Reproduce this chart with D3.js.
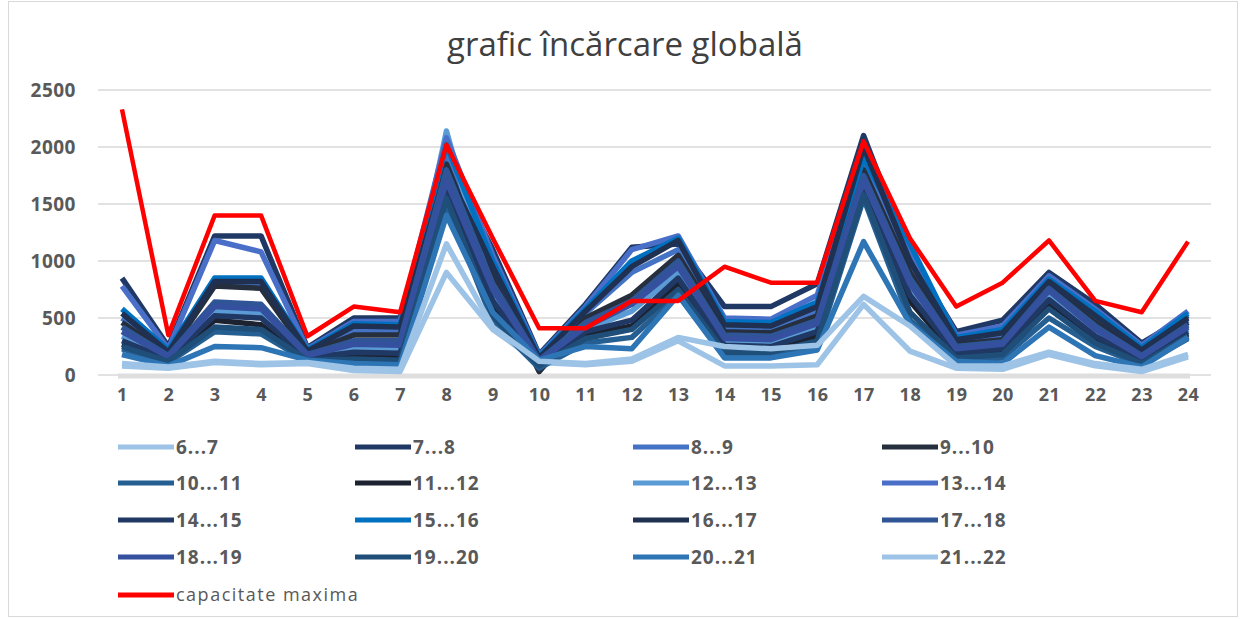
<!DOCTYPE html>
<html>
<head>
<meta charset="utf-8">
<script src="https://cdn.jsdelivr.net/npm/d3@7"></script>
<style>
  body { margin: 0; background: #fff; }
  svg { display: block; }
</style>
</head>
<body>
<script>
// categories on the x axis
const categories = d3.range(1, 25);
const yTicks = [0, 500, 1000, 1500, 2000, 2500];

// series values
const s67   = [80, 60, 110, 90, 100, 40, 30, 900, 400, 110, 90, 120, 300, 80, 80, 90, 620, 210, 60, 50, 180, 80, 30, 160];
const s78   = [850, 250, 1220, 1220, 240, 500, 500, 1900, 1100, 180, 620, 1120, 1150, 600, 600, 800, 2100, 1050, 380, 480, 900, 620, 280, 520];
const s89   = [500, 190, 800, 780, 200, 380, 380, 1950, 900, 140, 540, 900, 1100, 410, 400, 560, 1850, 950, 290, 340, 800, 490, 200, 480];
const s910  = [460, 180, 780, 760, 190, 350, 350, 1850, 850, 30, 500, 700, 1050, 380, 370, 520, 1800, 900, 270, 310, 780, 460, 180, 460];
const s1011 = [230, 110, 380, 360, 120, 110, 100, 1500, 470, 60, 280, 330, 700, 180, 170, 260, 1550, 480, 130, 150, 500, 250, 90, 320];
const s1112 = [270, 130, 480, 440, 140, 170, 160, 1720, 600, 90, 350, 430, 800, 230, 220, 340, 1600, 650, 170, 210, 620, 310, 120, 360];
const s1213 = [340, 150, 560, 540, 160, 240, 230, 2140, 700, 110, 400, 560, 900, 290, 280, 420, 1650, 750, 210, 250, 700, 370, 150, 400];
const s1314 = [780, 230, 1180, 1080, 230, 470, 470, 2080, 1050, 170, 600, 1100, 1220, 500, 490, 700, 1950, 1100, 350, 430, 870, 580, 260, 560];
const s1415 = [300, 140, 520, 500, 150, 200, 190, 1650, 650, 100, 380, 480, 850, 260, 250, 380, 1620, 700, 190, 230, 660, 340, 140, 380];
const s1516 = [580, 220, 850, 850, 220, 450, 440, 2020, 1000, 160, 580, 1000, 1200, 470, 460, 640, 1900, 1150, 330, 400, 840, 560, 240, 540];
const s1617 = [540, 200, 820, 820, 210, 430, 420, 1800, 950, 150, 560, 950, 1180, 440, 430, 600, 2000, 1000, 310, 370, 820, 520, 220, 500];
const s1718 = [420, 170, 640, 620, 180, 300, 300, 1800, 800, 130, 460, 650, 1000, 350, 340, 480, 1750, 850, 250, 290, 760, 430, 170, 440];
const s1819 = [380, 160, 600, 580, 170, 270, 260, 1700, 750, 120, 420, 620, 950, 320, 310, 450, 1700, 800, 230, 270, 740, 400, 160, 420];
const s1920 = [250, 120, 420, 400, 130, 140, 130, 1550, 520, 80, 320, 400, 750, 200, 200, 300, 1580, 550, 150, 180, 580, 280, 100, 340];
const s2021 = [180, 80, 250, 240, 130, 100, 90, 1400, 550, 130, 250, 230, 700, 150, 150, 220, 1170, 450, 120, 100, 420, 170, 70, 330];
const s2122 = [100, 70, 120, 100, 110, 60, 50, 1150, 420, 120, 100, 140, 330, 250, 230, 260, 690, 430, 80, 80, 200, 100, 50, 180];
const capacitate = [2330, 350, 1400, 1400, 340, 600, 550, 2020, 1200, 410, 410, 650, 650, 950, 810, 810, 2050, 1200, 600, 810, 1180, 650, 550, 1170];

const seriesNames = ["6...7", "7...8", "8...9", "9...10", "10...11", "11...12", "12...13", "13...14",
  "14...15", "15...16", "16...17", "17...18", "18...19", "19...20", "20...21", "21...22", "capacitate maxima"];
const seriesValues = [s67, s78, s89, s910, s1011, s1112, s1213, s1314,
  s1415, s1516, s1617, s1718, s1819, s1920, s2021, s2122, capacitate];
const seriesColors = ["#9dc3e6", "#1f3864", "#4472c4", "#262f3d", "#255e91", "#1c2230", "#5b9bd5", "#4a6fc8",
  "#203864", "#0070c0", "#1f3050", "#2f5597", "#34509f", "#1f4e79", "#2e75b6", "#9dc3e6", "#ff0000"];

const width = 1240, height = 619;
const textColor = "#595959";
const font = "'Open Sans', 'Liberation Sans', sans-serif";

const svg = d3.select("body").append("svg")
  .attr("width", width)
  .attr("height", height)
  .style("font-family", font);

// outer chart frame
svg.append("rect")
  .attr("x", 8.5).attr("y", 1.5)
  .attr("width", 1229).attr("height", 615)
  .attr("fill", "#fff")
  .attr("stroke", "#d9d9d9");

svg.append("text")
  .attr("x", 625).attr("y", 56)
  .attr("text-anchor", "middle")
  .attr("fill", "#404040")
  .style("font-size", "33px")
  .text("grafic încărcare globală");

const x = d3.scalePoint().domain(categories).range([122, 1188]);
const y = d3.scaleLinear().domain([0, 2500]).range([375, 90]);

// horizontal gridlines
svg.append("g")
  .selectAll("line")
  .data(yTicks)
  .join("line")
  .attr("x1", 98).attr("x2", 1211)
  .attr("y1", d => y(d)).attr("y2", d => y(d))
  .attr("stroke", "#d9d9d9")
  .attr("stroke-width", 1.5);

const yAxis = d3.axisLeft(y).tickValues(yTicks).tickFormat(d3.format("d")).tickSize(0).tickPadding(0);
svg.append("g")
  .attr("transform", "translate(76,0)")
  .call(yAxis)
  .call(g => g.select(".domain").remove())
  .call(g => g.selectAll("text")
    .attr("fill", textColor)
    .style("font-family", font)
    .style("font-size", "19px")
    .style("font-weight", "bold")
    .style("letter-spacing", "0.5px"));

const xAxis = d3.axisBottom(x).tickSize(0).tickPadding(0);
svg.append("g")
  .attr("transform", "translate(0,388)")
  .call(xAxis)
  .call(g => g.select(".domain").remove())
  .call(g => g.selectAll("text")
    .attr("fill", textColor)
    .style("font-family", font)
    .style("font-size", "18px")
    .style("font-weight", "bold")
    .style("letter-spacing", "0.5px"));

// thick light baseline along zero
svg.append("line")
  .attr("x1", x(1) - 4).attr("x2", x(24) + 2)
  .attr("y1", y(0) + 1).attr("y2", y(0) + 1)
  .attr("stroke", "#dedede")
  .attr("stroke-width", 5);

const line = d3.line()
  .x((d, i) => x(categories[i]))
  .y(d => y(d));

svg.append("g")
  .selectAll("path")
  .data(seriesValues)
  .join("path")
  .attr("d", d => line(d))
  .attr("fill", "none")
  .attr("stroke", (d, i) => seriesColors[i])
  .attr("stroke-width", (d, i) => i === seriesValues.length - 1 ? 4.5 : 5.5)
  .attr("stroke-linejoin", "round");

// legend
const legendCols = [118, 355, 633, 882];
const legendRows = [447, 483, 520, 557, 595];

const legend = svg.append("g")
  .selectAll("g")
  .data(seriesNames)
  .join("g")
  .attr("transform", (d, i) => `translate(${legendCols[i % 4]},${legendRows[Math.floor(i / 4)]})`);

legend.append("line")
  .attr("x1", 0).attr("x2", 56)
  .attr("stroke", (d, i) => seriesColors[i])
  .attr("stroke-width", 5);

legend.append("text")
  .attr("x", 58)
  .attr("dy", "0.35em")
  .attr("fill", textColor)
  .style("font-size", (d, i) => i === seriesNames.length - 1 ? "18px" : "19px")
  .style("font-weight", (d, i) => i === seriesNames.length - 1 ? "normal" : "bold")
  .style("letter-spacing", (d, i) => i === seriesNames.length - 1 ? "1.5px" : "1px")
  .text(d => d);
</script>
</body>
</html>
